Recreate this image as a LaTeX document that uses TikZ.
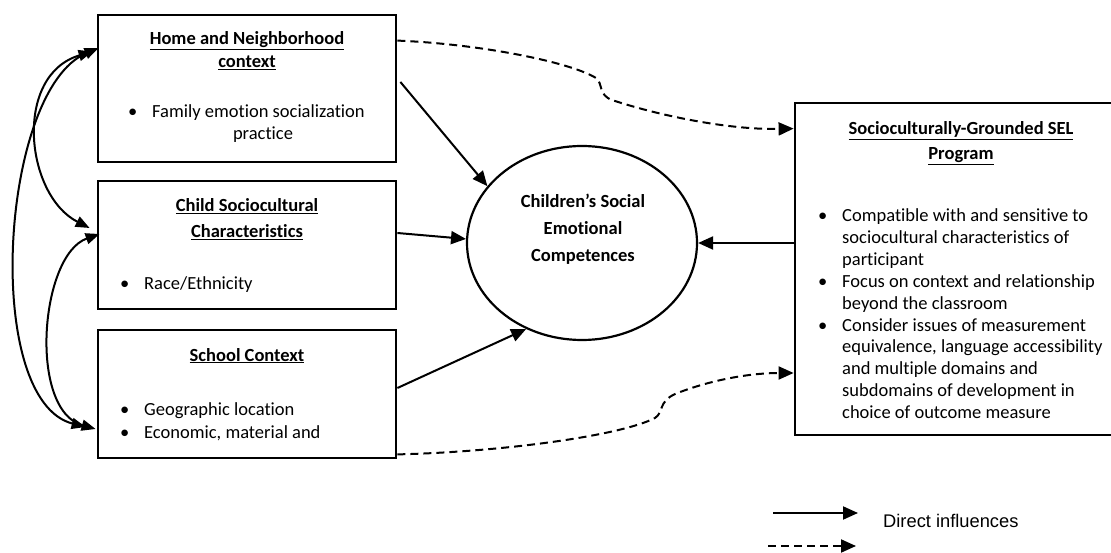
\documentclass[tikz,border=0pt]{standalone}
\usepackage{fontspec}
\setmainfont{Carlito}[Ligatures=NoCommon]
\newfontfamily\legendfont{Liberation Sans}
\usetikzlibrary{arrows.meta,calc,shapes.geometric}
\begin{document}
\begin{tikzpicture}[x=1pt,y=-1pt,
 box/.style={draw,line width=2.8pt,inner sep=0pt},
 arr/.style={line width=2pt,-{Triangle[length=15pt,width=13pt]}},
 darr/.style={arr,dash pattern=on 8pt off 5pt},
 barr/.style={line width=2pt,{Triangle[length=14pt,width=11pt]}-{Triangle[length=14pt,width=11pt]}},
 txt/.style={font=\fontsize{18.5}{21.8}\selectfont,inner sep=0pt,anchor=base west},
 ttl/.style={font=\fontsize{18.5}{21.8}\selectfont\bfseries,inner sep=0pt,anchor=base},
 ctr/.style={font=\fontsize{18.5}{21.8}\selectfont,inner sep=0pt,anchor=base}
]
\useasboundingbox (0,0) rectangle (1111,553);

% boxes
\node[box,minimum width=298pt,minimum height=147pt] (home) at (247,88.5) {};
\node[box,minimum width=298pt,minimum height=128pt] (child) at (247,245) {};
\node[box,minimum width=298pt,minimum height=128pt] (school) at (247,394) {};
\node[box,minimum width=318pt,minimum height=332pt] (sel) at (954,269) {};
\node[draw,ellipse,line width=2.2pt,minimum width=230pt,minimum height=194pt,inner sep=0pt] (ell) at (582,243) {};

% home text
\node[ttl] (h1) at (247,45) {\underline{Home and Neighborhood}};
\node[ttl] (h2) at (247,68) {\underline{context}};
\node[txt] (hb) at (128,118) {\textbullet};
\node[txt] (h3) at (152,118) {Family emotion socialization};
\node[ctr] (h4) at (263,140) {practice};

% child text
\node[ttl] (c1) at (247,212) {\underline{Child Sociocultural}};
\node[ttl] (c2) at (247,238) {\underline{Characteristics}};
\node[txt] (cb) at (120,290) {\textbullet};
\node[txt] (c3) at (144,290) {Race/Ethnicity};

% school text
\node[ttl] (s1) at (247,361) {\underline{School Context}};
\node[txt] (sb1) at (120,415) {\textbullet};
\node[txt] (s2) at (144,415) {Geographic location};
\node[txt] (sb2) at (120,438) {\textbullet};
\node[txt] (s3) at (144,438) {Economic, material and};

% ellipse text
\node[ttl] (e1) at (583,208) {Children’s Social};
\node[ttl] (e2) at (583,235) {Emotional};
\node[ttl] (e3) at (583,262) {Competences};

% SEL text
\node[ttl] (p1) at (961,135) {\underline{Socioculturally-Grounded SEL}};
\node[ttl] (p2) at (961,160) {\underline{Program}};
\node[txt] (pb1) at (818,222) {\textbullet};
\node[txt] (q1) at (842,222) {Compatible with and sensitive to};
\node[txt] (q2) at (842,243.8) {sociocultural characteristics of};
\node[txt] (q3) at (842,265.6) {participant};
\node[txt] (pb2) at (818,287.4) {\textbullet};
\node[txt] (q4) at (842,287.4) {Focus on context and relationship};
\node[txt] (q5) at (842,309.2) {beyond the classroom};
\node[txt] (pb3) at (818,331) {\textbullet};
\node[txt] (q6) at (842,331) {Consider issues of measurement};
\node[txt] (q7) at (842,352.8) {equivalence, language accessibility};
\node[txt] (q8) at (842,374.6) {and multiple domains and};
\node[txt] (q9) at (842,396.4) {subdomains of development in};
\node[txt] (q10) at (842,418.2) {choice of outcome measure};

% direct arrows
\draw[arr] ($(home.east)+(3,-6.5)$) -- (ell.149);
\draw[arr] ($(child.east)+(0,-12)$) -- (ell.178);
\draw[arr] ($(school.east)+(0,-6)$) -- (ell.237);
\draw[arr] (sel.west |- ell.east) -- (ell.east);

% dashed arrows
\coordinate (hd) at ($(home.north east)+(0,27)$);
\coordinate (sd1) at ($(sel.north west)+(0,27)$);
\draw[darr] (hd) .. controls (480,44) and (570,62) .. (596,78)
  .. controls (603,83) and (598,95) .. (612,100)
  .. controls (660,116) and (730,130) .. (sd1);
\coordinate (scd) at ($(school.south east)+(0,-5)$);
\coordinate (sd2) at ($(sel.west)+(0,104)$);
\draw[darr] (scd) .. controls (500,452) and (620,436) .. (655,418)
  .. controls (664,412) and (658,402) .. (675,394)
  .. controls (710,380) and (750,373) .. (sd2);

% left curved double arrows
\coordinate (hA) at ($(home.west)+(2,-40.5)$);
\coordinate (hB) at ($(home.west)+(-4,-37)$);
\coordinate (cA) at ($(child.west)+(-7,-17)$);
\coordinate (cB) at ($(child.west)+(3,-11)$);
\coordinate (sA) at ($(school.west)+(-11,33)$);
\coordinate (sB) at ($(school.west)+(-1,35)$);
\draw[barr] (hA) .. controls (0,90) and (-18,400) .. (sA);
\draw[barr] (hB) .. controls (13,75) and (25,195) .. (cA);
\draw[barr] (cB) .. controls (40,255) and (28,410) .. (sB);

% legend
\coordinate (l1a) at (773,513);
\coordinate (l1b) at (858,513);
\draw[arr] (l1a) -- (l1b);
\coordinate (l2a) at (768,546);
\coordinate (l2b) at (856,546);
\draw[darr] (l2a) -- (l2b);
\node[inner sep=0pt,anchor=base west,font=\legendfont\fontsize{18.3}{21}\selectfont] (lt) at (883,527) {Direct influences};
\end{tikzpicture}
\end{document}
